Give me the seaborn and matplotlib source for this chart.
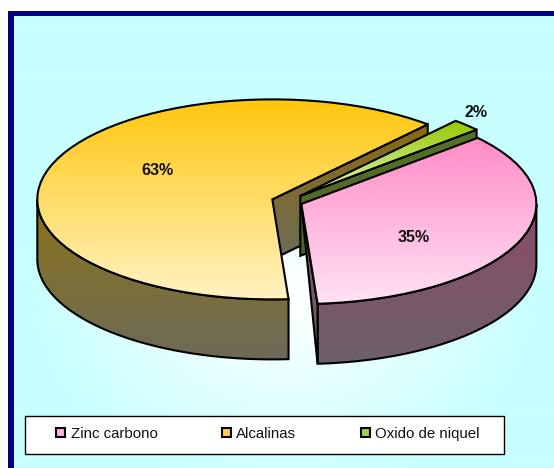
import numpy as np
import matplotlib
matplotlib.use("Agg")
import matplotlib.pyplot as plt
import seaborn as sns
from matplotlib.patches import Patch, Polygon, Rectangle

# ---- data -------------------------------------------------------------
categories = ["Zinc carbono", "Alcalinas", "Oxido de niquel"]
values = [35.4, 62.6, 2.0]
explode = [0.066, 0.066, 0.08]
tick_labels = ["35%", "63%", "2%"]

# ---- styles -----------------------------------------------------------
top_grad = [("#FF8CC6", "#FFE2F6"), ("#FFC60A", "#FFF3C4"), ("#93C800", "#E2F2BC")]
rim_grad = [("#8A4C68", "#6C6068"), ("#8E7418", "#6C6A58")]
face_grad = [("#7E5068", "#6C5C68"), ("#8C6A10", "#6C6C58"), ("#56702A", "#506028")]
legend_cols = ["#FFB0DA", "#FFCC55", "#A2CC50"]
W, H = 554, 468
CX, CY, RX, RY, DEPTH = 287.0, 201.5, 235.0, 100.0, 60.0
LABEL_POS = [(414, 238), (157, 171), (476, 113)]

sns.set_theme(style="white")
plt.rcParams["font.family"] = ["Liberation Sans", "DejaVu Sans"]

fig = plt.figure(figsize=(W / 100, H / 100), dpi=100, facecolor="white")
ax = fig.add_axes([0, 0, 1, 1])


def px(x, y):
    return (x - CX) / RX, (CY - y) / RY


wedges, _ = ax.pie(values, explode=explode, startangle=41.4, counterclock=False, radius=1,
                   wedgeprops=dict(facecolor="none", edgecolor="black", linewidth=1.5, zorder=10))
ax.set_aspect("auto")
x0, _ = px(0, 0); x1, _ = px(W, 0)
_, y0 = px(0, H); _, y1 = px(0, 0)
ax.set_xlim(x0, x1)
ax.set_ylim(y0, y1)
ax.axis("off")
dz = DEPTH / RY


def grad_fill(path_patch, c_top, c_bot, ytop, ybot, z):
    cmap = sns.blend_palette([c_top, c_bot], 64, as_cmap=True)
    xs = path_patch.get_path().transformed(path_patch.get_patch_transform()).vertices[:, 0]
    g = np.linspace(0, 1, 256)[:, None]
    im = ax.imshow(g, cmap=cmap, aspect="auto", extent=(xs.min() - .01, xs.max() + .01, ybot, ytop),
                   zorder=z, origin="upper", interpolation="bilinear")
    im.set_clip_path(path_patch)


# background: pale cyan with a lighter centre, frame open at right and bottom
yy, xx = np.mgrid[0:H, 0:W]
d = np.clip(np.hypot((xx - 284) / 250, (yy - 295) / 200), 0, 1)
bgcmap = sns.blend_palette(["#FFFFFF", "#C8FFFF"], 64, as_cmap=True)
a, b = px(14, 17), px(W, H)
ax.add_patch(Rectangle(px(8, H), (W - 8) / RX, (H - 11) / RY, fc="#000080", ec="none", zorder=0))
ax.imshow(d[17:H, 14:W], cmap=bgcmap, vmin=0, vmax=1, aspect="auto",
          extent=(a[0], b[0], b[1], a[1]), zorder=1, origin="upper")


def arc(w, t0, t1, n=120):
    t = np.radians(np.linspace(t0, t1, n))
    return np.c_[w.center[0] + np.cos(t), w.center[1] + np.sin(t)]


z = 2
order = [1, 2, 0]   # back-to-front
for i in order:
    w = wedges[i]
    t1, t2 = w.theta1, w.theta2
    cx, cy = w.center
    verts = w.get_path().transformed(w.get_patch_transform()).vertices
    topy, boty = verts[:, 1].max(), verts[:, 1].min()

    # far cut face at the clockwise end of alcalinas and of the small slice
    if i in (1, 2):
        e = np.radians(t1)
        ox, oy = cx + np.cos(e), cy + np.sin(e)
        face = Polygon([(cx, cy), (ox, oy), (ox, oy - dz), (cx, cy - dz)], closed=True,
                       fc="none", ec="black", lw=1.5, zorder=z + 1)
        ax.add_patch(face)
        grad_fill(face, *face_grad[i], oy, cy - dz, z)
        z += 2

    # outer rim, front half only
    pts = None
    if i == 1:
        pts = arc(w, t2, -180)
    elif i == 0:
        pts = arc(w, t1, 0)
    if pts is not None:
        low = pts - [0, dz]
        rim = Polygon(np.r_[pts, low[::-1]], closed=True, fc="none", ec="black", lw=1.5, zorder=z + 1)
        ax.add_patch(rim)
        grad_fill(rim, *rim_grad[i], pts[:, 1].max(), low[:, 1].min(), z)
        z += 2

    # near cut face of zinc carbono
    if i == 0:
        e = np.radians(t1)
        ox, oy = cx + np.cos(e), cy + np.sin(e)
        face = Polygon([(cx, cy), (ox, oy), (ox, oy - dz)], closed=True,
                       fc="none", ec="black", lw=1.5, zorder=z + 1)
        ax.add_patch(face)
        grad_fill(face, *face_grad[0], cy, oy - dz, z)
        z += 2

    # top surface
    w.set_zorder(z + 1)
    grad_fill(w, *top_grad[i], topy, boty, z)
    z += 2

# value labels
for lab, (x, y) in zip(tick_labels, LABEL_POS):
    ax.text(*px(x, y), lab, ha="center", va="center", fontsize=11.5, fontweight="bold",
            color="#111111", zorder=50)

# legend box
ax.add_patch(Rectangle(px(25, 454), 479 / RX, 38 / RY, fc="white", ec="black", lw=1, zorder=40))
handles = [Patch(fc=c, ec="black", lw=1.5, label=l) for c, l in zip(legend_cols, categories)]
ax.legend(handles=handles, ncol=3, frameon=False, loc="center",
          bbox_to_anchor=(268 / W, 1 - 434 / H), bbox_transform=fig.transFigure,
          fontsize=10.8, handlelength=0.6, handleheight=0.6, handletextpad=0.35,
          columnspacing=4.3, labelcolor="#111111").set_zorder(45)

fig.savefig("out.png", dpi=100)
